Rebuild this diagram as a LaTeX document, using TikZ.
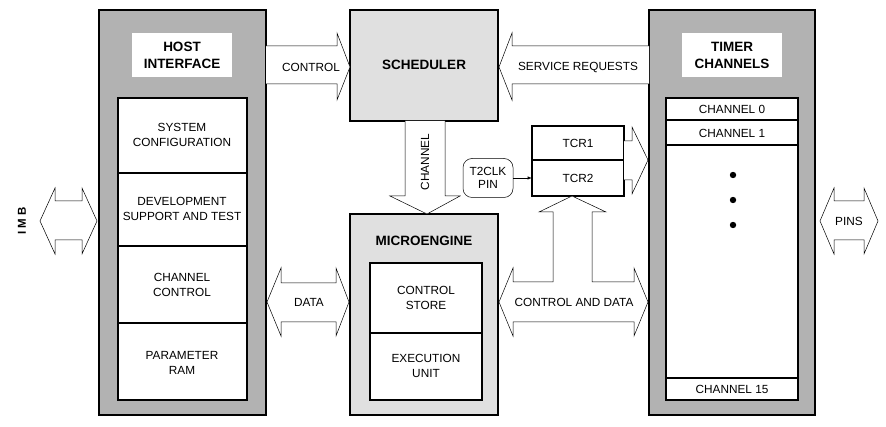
\documentclass[tikz,border=0pt]{standalone}
\usepackage{fontspec}
\setmainfont{Liberation Sans}
\begin{document}
\begin{tikzpicture}[x=1pt,y=-1pt,
  lbl/.style={font=\fontsize{11.8}{15}\selectfont,align=center,inner sep=0},
  ttl/.style={font=\fontsize{13.5}{17}\selectfont\bfseries,align=center,inner sep=0},
  box/.style={draw,line width=1.3pt},
  blk/.style={draw,line width=0.5pt,fill=white}]
\useasboundingbox (0,0) rectangle (886,427);
\definecolor{dg}{gray}{0.70}
\definecolor{lg}{gray}{0.88}
% host
\draw[box,fill=dg] (99,10) rectangle (266,415);
\fill[white] (132,33) rectangle (232,77);
\node[ttl] (host) at (182,55) {HOST\\INTERFACE};
\draw[box,fill=white] (118,98) rectangle (247,400);
\draw[line width=1.1pt] (118,173)--(247,173) (118,246)--(247,246) (118,323)--(247,323);
\node[lbl] (sys) at (182,135) {SYSTEM\\CONFIGURATION};
\node[lbl] (dev) at (182,209) {DEVELOPMENT\\SUPPORT AND TEST};
\node[lbl] (cc) at (182,285) {CHANNEL\\CONTROL};
\node[lbl] (pr) at (182,363) {PARAMETER\\RAM};
% scheduler
\draw[box,fill=lg] (350,10) rectangle (498,121);
\node[ttl] (sch) at (424,65) {SCHEDULER};
% microengine
\draw[box,fill=lg] (350,214) rectangle (498,415);
\node[ttl] (me) at (424,241) {MICROENGINE};
\draw[box,fill=white] (370,263) rectangle (482,400);
\draw[line width=1.1pt] (370,333)--(482,333);
\node[lbl] (cs) at (426,298) {CONTROL\\STORE};
\node[lbl] (eu) at (426,366) {EXECUTION\\UNIT};
% timer
\draw[box,fill=dg] (649,10) rectangle (815,415);
\fill[white] (682,33) rectangle (782,77);
\node[ttl] (tim) at (732,55) {TIMER\\CHANNELS};
\draw[box,fill=white] (666,98) rectangle (798,400);
\draw[line width=1.1pt] (666,120)--(798,120) (666,145)--(798,145) (666,378)--(798,378);
\node[lbl] (c0) at (732,109) {CHANNEL 0};
\node[lbl] (c1) at (732,133) {CHANNEL 1};
\node[lbl] (c15) at (732,389) {CHANNEL 15};
\foreach \y in {175,200,225} \fill (733,\y) circle (3.2);
% TCR
\draw[box,fill=white] (532,126) rectangle (624,196);
\draw[line width=1.1pt] (532,160)--(624,160);
\node[lbl] (tcr1) at (578,143) {TCR1};
\node[lbl] (tcr2) at (578,178) {TCR2};
\node[draw,rounded corners=9pt,minimum width=50pt,minimum height=39pt,lbl,line width=0.5pt,font=\fontsize{11.8}{13}\selectfont] (t2) at (488,178) {T2CLK\\PIN};
\draw[-latex,line width=0.5pt] (t2.east) -- (532,178);
% block arrows
\draw[blk] (40,221)--(55,188)--(55,201)--(82,201)--(82,188)--(97,221)--(82,254)--(82,240)--(55,240)--(55,254)--cycle;
\node[font=\fontsize{11.5}{12}\selectfont\bfseries,rotate=90] (imb) at (22,221) {I M B};
\draw[blk] (266,46)--(337,46)--(337,33)--(350,67)--(337,100)--(337,84)--(266,84);
\node[lbl] (ctl) at (311,67) {CONTROL};
\draw[blk] (649,46)--(512,46)--(512,33)--(499,67)--(512,100)--(512,84)--(649,84);
\node[lbl] (sr) at (578,67) {SERVICE REQUESTS};
\draw[blk] (405,121)--(405,196)--(390,196)--(427,214)--(460,196)--(445,196)--(445,121);
\node[lbl,rotate=90] (chn) at (425,162) {CHANNEL};
\draw[blk] (267,302)--(281,268)--(281,283)--(336,283)--(336,268)--(349,302)--(336,336)--(336,322)--(281,322)--(281,336)--cycle;
\node[lbl] (dat) at (309,302) {DATA};
\draw[blk] (499,302)--(513,268)--(513,282)--(553,282)--(553,212)--(539,212)--(572,196)--(606,212)--(592,212)--(592,282)--(634,282)--(634,268)--(648,302)--(634,336)--(634,322)--(513,322)--(513,336)--cycle;
\node[lbl] (cad) at (574,302) {CONTROL AND DATA};
\draw[blk] (624,141)--(632,141)--(632,127)--(648,160)--(632,194)--(632,180)--(624,180);
\draw[blk] (820,221)--(834,188)--(834,201)--(864,201)--(864,188)--(878,221)--(864,254)--(864,240)--(834,240)--(834,254)--cycle;
\node[lbl] (pins) at (849,221) {PINS};
\end{tikzpicture}
\end{document}
